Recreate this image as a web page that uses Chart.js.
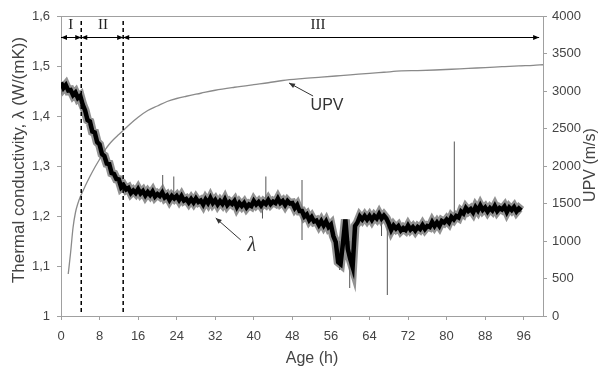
<!DOCTYPE html>
<html><head><meta charset="utf-8">
<script src="https://cdn.jsdelivr.net/npm/chart.js@4.4.0/dist/chart.umd.min.js"></script>
<style>html,body{margin:0;padding:0;background:#fff;}canvas{display:block;}</style>
</head><body>
<canvas id="c" width="603" height="367"></canvas>
<script>
// ---- data ----
const lambdaAge = [
 0,0.5,1,1.5,2,2.5,3,3.5,4,4.5,5,5.5,6,6.5,7,7.5,
 8,8.5,9,9.5,10,10.5,11,11.5,12,12.5,13,13.5,14,14.5,15,15.5,
 16,16.5,17,17.5,18,18.5,19,19.5,20,20.5,21,21.5,22,22.5,23,23.5,
 24,24.5,25,25.5,26,26.5,27,27.5,28,28.5,29,29.5,30,30.5,31,31.5,
 32,32.5,33,33.5,34,34.5,35,35.5,36,36.5,37,37.5,38,38.5,39,39.5,
 40,40.5,41,41.5,42,42.5,43,43.5,44,44.5,45,45.5,46,46.5,47,47.5,
 48,48.5,49,49.5,50,50.5,51,51.5,52,52.5,53,53.5,54,54.5,55,55.5,
 56,56.5,57,57.5,58,58.5,59,59.5,60,60.5,61,61.5,62,62.5,63,63.5,
 64,64.5,65,65.5,66,66.5,67,67.5,68,68.5,69,69.5,70,70.5,71,71.5,
 72,72.5,73,73.5,74,74.5,75,75.5,76,76.5,77,77.5,78,78.5,79,79.5,
 80,80.5,81,81.5,82,82.5,83,83.5,84,84.5,85,85.5,86,86.5,87,87.5,
 88,88.5,89,89.5,90,90.5,91,91.5,92,92.5,93,93.5,94,94.5,95,95.5
];
const lambdaValues = [
 1.467,1.456,1.462,1.451,1.452,1.442,1.447,1.436,1.440,1.423,1.411,1.392,1.389,1.369,1.367,1.348,
 1.343,1.324,1.320,1.305,1.304,1.286,1.284,1.274,1.273,1.257,1.261,1.253,1.256,1.246,1.251,1.246,
 1.254,1.245,1.250,1.241,1.248,1.242,1.249,1.239,1.244,1.240,1.247,1.237,1.241,1.232,1.240,1.235,
 1.240,1.232,1.240,1.231,1.234,1.227,1.234,1.227,1.235,1.228,1.231,1.223,1.233,1.226,1.236,1.226,
 1.232,1.223,1.230,1.224,1.233,1.222,1.228,1.224,1.230,1.218,1.226,1.220,1.226,1.217,1.223,1.220,
 1.230,1.223,1.228,1.221,1.228,1.224,1.232,1.224,1.229,1.226,1.235,1.226,1.230,1.222,1.230,1.225,
 1.226,1.216,1.222,1.210,1.210,1.199,1.203,1.192,1.198,1.189,1.191,1.182,1.190,1.181,1.189,1.178,
 1.183,1.160,1.148,1.108,1.104,1.146,1.193,1.134,1.114,1.098,1.180,1.187,1.199,1.193,1.200,1.193,
 1.200,1.192,1.200,1.195,1.204,1.195,1.201,1.195,1.185,1.172,1.181,1.175,1.180,1.171,1.176,1.172,
 1.181,1.173,1.178,1.171,1.178,1.174,1.182,1.174,1.180,1.178,1.188,1.180,1.187,1.180,1.190,1.187,
 1.193,1.187,1.198,1.193,1.200,1.197,1.209,1.205,1.216,1.210,1.214,1.207,1.218,1.211,1.221,1.212,
 1.217,1.209,1.216,1.211,1.220,1.210,1.216,1.213,1.219,1.208,1.217,1.212,1.218,1.209,1.215,1.211
];
// isolated spikes in the lambda record
const spikeAge  = [21.1, 23.4, 41.8, 42.5, 50.0, 57.8, 59.9, 60.6, 66.5, 67.7, 81.6];
const spikeLow  = [1.240,1.236,1.195,1.225,1.152,1.092,1.056,1.079,1.160,1.042,1.190];
const spikeHigh = [1.282,1.279,1.225,1.279,1.272,1.150,1.150,1.150,1.195,1.190,1.349];

const upvAge = [1.5,2,2.5,3,3.5,4,4.5,5,6,7,8,9,10,11,12,13,14,16,18,20,22,24,26,29,32,36,40,43,46,50,54,57,60,64,67,70.6,74,77.6,81,84.5,88,91.5,95,98,100];
const upvValues = [560,850,1180,1380,1500,1590,1660,1730,1860,1980,2090,2200,2290,2360,2420,2480,2540,2650,2740,2800,2860,2900,2930,2970,3010,3050,3085,3110,3140,3165,3185,3200,3215,3236,3250,3267,3272,3280,3290,3302,3312,3324,3335,3342,3350];

const xTicks = [0,8,16,24,32,40,48,56,64,72,80,88,96];
const lambdaTicks = [1,1.1,1.2,1.3,1.4,1.5,1.6];
const upvTicks = [0,500,1000,1500,2000,2500,3000,3500,4000];

const regionBounds = [0, 4.2, 12.9, 99.2];
const regionLabels = ['I','II','III'];
const regionLabelAge = [2.0, 8.7, 53.3];

// ---- build datasets ----
const lambdaData = lambdaAge.map((a,i)=>({x:a,y:lambdaValues[i]}));
const spikeData = [];
spikeAge.forEach((a,i)=>{ spikeData.push({x:a,y:spikeLow[i]},{x:a,y:spikeHigh[i]},{x:a,y:null}); });
const upvData = upvAge.map((a,i)=>({x:a,y:upvValues[i]}));

const SANS = "'Liberation Sans', Arial, sans-serif";
const SERIF = "'Liberation Serif', 'Times New Roman', serif";
const AXIS = '#a0a0a0';
const TXT = '#444';

function head(ctx, x1, y1, x2, y2, len, w){
  const ang = Math.atan2(y2-y1, x2-x1);
  ctx.beginPath();
  ctx.moveTo(x2,y2);
  ctx.lineTo(x2 - len*Math.cos(ang) + w*Math.sin(ang), y2 - len*Math.sin(ang) - w*Math.cos(ang));
  ctx.lineTo(x2 - len*Math.cos(ang) - w*Math.sin(ang), y2 - len*Math.sin(ang) + w*Math.cos(ang));
  ctx.closePath(); ctx.fill();
}

const overlay = {
  id:'overlay',
  afterDraw(chart){
    const {ctx, chartArea:a, scales} = chart;
    const X = scales.x, Y = scales.y, Y1 = scales.y1;
    ctx.save();
    // top frame line
    ctx.strokeStyle = AXIS; ctx.lineWidth = 1;
    ctx.beginPath(); ctx.moveTo(a.left, Math.round(a.top)+0.5); ctx.lineTo(a.right, Math.round(a.top)+0.5); ctx.stroke();

    // dashed stage boundaries
    ctx.strokeStyle = '#000'; ctx.lineWidth = 1.5; ctx.setLineDash([4,3]);
    for (let i=1;i<regionBounds.length-1;i++){
      const px = X.getPixelForValue(regionBounds[i]);
      ctx.beginPath(); ctx.moveTo(px, Y.getPixelForValue(1.59)); ctx.lineTo(px, Y.getPixelForValue(1.006)); ctx.stroke();
    }
    ctx.setLineDash([]);

    // stage arrow line
    const ay = Math.round(Y.getPixelForValue(1.558))+0.5;
    ctx.strokeStyle = '#000'; ctx.fillStyle = '#000'; ctx.lineWidth = 1;
    const x0 = X.getPixelForValue(regionBounds[0]), xe = X.getPixelForValue(regionBounds[regionBounds.length-1]);
    ctx.beginPath(); ctx.moveTo(x0, ay); ctx.lineTo(xe, ay); ctx.stroke();
    for (let i=0;i<regionBounds.length-1;i++){
      const l = X.getPixelForValue(regionBounds[i]), r = X.getPixelForValue(regionBounds[i+1]);
      head(ctx, l+10, ay, l, ay, 6, 2.5);
      head(ctx, r-10, ay, r, ay, 6, 2.5);
    }
    // stage labels
    ctx.font = '15px ' + SERIF; ctx.fillStyle = '#222'; ctx.textAlign = 'center'; ctx.textBaseline = 'middle';
    regionLabels.forEach((t,i)=>{ ctx.fillText(t, X.getPixelForValue(regionLabelAge[i]), ay - 12); });

    // UPV annotation
    ctx.fillStyle = '#333'; ctx.strokeStyle = '#333'; ctx.lineWidth = 1;
    ctx.font = '16px ' + SANS;
    ctx.fillText('UPV', X.getPixelForValue(55.2), Y1.getPixelForValue(2800));
    let p1x = X.getPixelForValue(52.3), p1y = Y1.getPixelForValue(2933);
    let p2x = X.getPixelForValue(47.3), p2y = Y1.getPixelForValue(3107);
    ctx.beginPath(); ctx.moveTo(p1x,p1y); ctx.lineTo(p2x,p2y); ctx.stroke();
    head(ctx, p1x,p1y,p2x,p2y,6,2.5);

    // lambda annotation
    ctx.font = 'italic 20px ' + SERIF;
    ctx.fillText('λ', X.getPixelForValue(39.6), Y.getPixelForValue(1.14));
    p1x = X.getPixelForValue(37.3); p1y = Y.getPixelForValue(1.152);
    p2x = X.getPixelForValue(32.1); p2y = Y.getPixelForValue(1.196);
    ctx.beginPath(); ctx.moveTo(p1x,p1y); ctx.lineTo(p2x,p2y); ctx.stroke();
    head(ctx, p1x,p1y,p2x,p2y,6,2.5);

    // axis titles
    ctx.fillStyle = TXT; ctx.font = '16px ' + SANS;
    ctx.fillText('Age (h)', (a.left+a.right)/2 + 10, 359);
    ctx.save(); ctx.translate(19, 160); ctx.rotate(-Math.PI/2);
    ctx.font = '17px ' + SANS;
    ctx.fillText('Thermal conductivity, λ (W/(mK))', 0, 0); ctx.restore();
    ctx.save(); ctx.translate(591, 165); ctx.rotate(-Math.PI/2);
    ctx.font = '16px ' + SANS;
    ctx.fillText('UPV (m/s)', 0, 0); ctx.restore();
    ctx.restore();
  }
};

const tickFont = {family: SANS, size: 13};
new Chart(document.getElementById('c').getContext('2d'), {
  type: 'line',
  data: { datasets: [
    {label:'λ', data: lambdaData, yAxisID:'y', borderColor:'#000', borderWidth:4.5, pointRadius:0, tension:0, borderJoinStyle:'miter', order:1},
    {label:'λ noise', data: lambdaData, yAxisID:'y', borderColor:'rgba(110,110,110,0.75)', borderWidth:9, pointRadius:0, tension:0, borderJoinStyle:'miter', order:2},
    {label:'spikes', data: spikeData, yAxisID:'y', borderColor:'#555', borderWidth:1, pointRadius:0, spanGaps:false, order:3},
    {label:'UPV', data: upvData, yAxisID:'y1', borderColor:'#8a8a8a', borderWidth:1.3, pointRadius:0, cubicInterpolationMode:'monotone', order:4}
  ]},
  options: {
    responsive:false, animation:false, devicePixelRatio:1,
    layout:{padding:{top:16,left:0,right:0,bottom:0}},
    plugins:{legend:{display:false}, tooltip:{enabled:false}},
    scales:{
      x:{type:'linear', min:0, max:100,
         afterBuildTicks:s=>{ s.ticks = xTicks.map(v=>({value:v})); },
         afterFit:s=>{ s.height = 51; },
         ticks:{font:tickFont, color:TXT, padding:9, maxRotation:0, autoSkip:false},
         grid:{drawOnChartArea:false, tickLength:4, color:AXIS},
         border:{color:AXIS}},
      y:{position:'left', min:1, max:1.6,
         afterBuildTicks:s=>{ s.ticks = lambdaTicks.map(v=>({value:v})); },
         afterFit:s=>{ s.width = 61; },
         ticks:{font:tickFont, color:TXT, padding:7, callback:v=> v===1 ? '1' : String(v).replace('.',',')},
         grid:{drawOnChartArea:false, tickLength:4, color:AXIS},
         border:{color:AXIS}},
      y1:{position:'right', min:0, max:4000,
         afterBuildTicks:s=>{ s.ticks = upvTicks.map(v=>({value:v})); },
         afterFit:s=>{ s.width = 60; },
         ticks:{font:tickFont, color:TXT, padding:5, callback:v=>String(v)},
         grid:{drawOnChartArea:false, tickLength:4, color:AXIS},
         border:{color:AXIS}}
    }
  },
  plugins:[overlay]
});
</script>
</body></html>
